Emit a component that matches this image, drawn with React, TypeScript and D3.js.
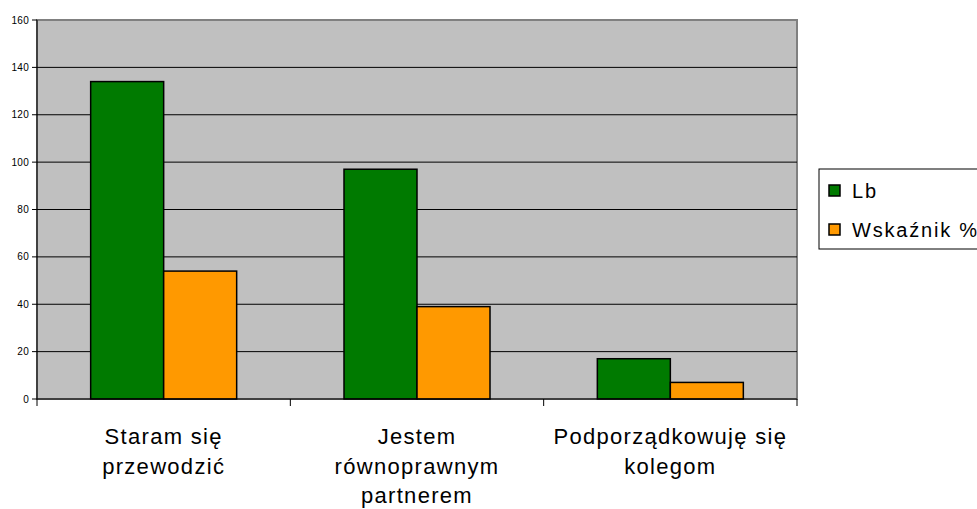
import React from "react";
import * as d3 from "d3";

const categories: string[][] = [
  ["Staram się", "przewodzić"],
  ["Jestem", "równoprawnym", "partnerem"],
  ["Podporządkowuję się", "kolegom"],
];
const seriesNames = ["Lb", "Wskaźnik %"];
const lbValues = [134, 97, 17];
const pctValues = [54, 39, 7];
const seriesColors = ["#007A00", "#FF9900"];
const yTicks = [0, 20, 40, 60, 80, 100, 120, 140, 160];

export default function App() {
  const W = 977, H = 509;
  const left = 37, right = 797, top = 20, bottom = 399;
  const y = d3.scaleLinear().domain([0, 160]).range([bottom, top]);
  const x0 = d3.scaleBand<number>().domain([0, 1, 2]).range([left, right]).paddingInner(0).paddingOuter(0);
  const groupW = 146;
  const x1 = d3.scaleBand<number>().domain([0, 1]).range([0, groupW]);
  const series = [lbValues, pctValues];
  const font = "Arial, 'Liberation Sans', sans-serif";

  return (
    <svg width={W} height={H} style={{ position: "absolute", left: 0, top: 0, background: "#fff" }} fontFamily={font}>
      <rect x={left} y={top} width={right - left} height={bottom - top} fill="#C0C0C0" stroke="#808080" strokeWidth={2} />
      {yTicks.map((t) => (
        <g key={t}>
          {t > 0 && t < 160 && (
            <line x1={left} x2={right} y1={y(t)} y2={y(t)} stroke="#000" strokeWidth={1} />
          )}
          <line x1={left - 5} x2={left} y1={y(t)} y2={y(t)} stroke="#000" />
          <text x={left - 8} y={y(t)} dy="0.35em" textAnchor="end" fontSize={10} letterSpacing={0.3} fill="#000">{t}</text>
        </g>
      ))}
      {categories.map((_, i) =>
        series.map((s, j) => {
          const gx = x0(i)! + (x0.bandwidth() - groupW) / 2;
          return (
            <rect key={`${i}-${j}`} x={gx + x1(j)!} y={y(s[i])} width={x1.bandwidth()} height={bottom - y(s[i])}
              fill={seriesColors[j]} stroke="#000" strokeWidth={1.5} />
          );
        })
      )}
      <line x1={left} x2={left} y1={top} y2={bottom} stroke="#000" />
      <line x1={left} x2={right} y1={bottom} y2={bottom} stroke="#000" />
      {[0, 1, 2, 3].map((k) => {
        const xx = left + (k * (right - left)) / 3;
        return <line key={k} x1={xx} x2={xx} y1={bottom} y2={bottom + 7} stroke="#000" />;
      })}
      {categories.map((lines, i) => (
        <text key={i} textAnchor="middle" fontSize={22} letterSpacing={1.3} fill="#000">
          {lines.map((ln, k) => (
            <tspan key={k} x={x0(i)! + x0.bandwidth() / 2} y={444 + k * 29.5}>{ln}</tspan>
          ))}
        </text>
      ))}
      <rect x={819} y={169} width={200} height={80} fill="#fff" stroke="#000" strokeWidth={1} />
      {seriesNames.map((n, j) => (
        <g key={n}>
          <rect x={829} y={185 + j * 39} width={11} height={11} fill={seriesColors[j]} stroke="#000" strokeWidth={1.5} />
          <text x={852} y={198 + j * 39} fontSize={20} letterSpacing={1.8} fill="#000">{n}</text>
        </g>
      ))}
    </svg>
  );
}
